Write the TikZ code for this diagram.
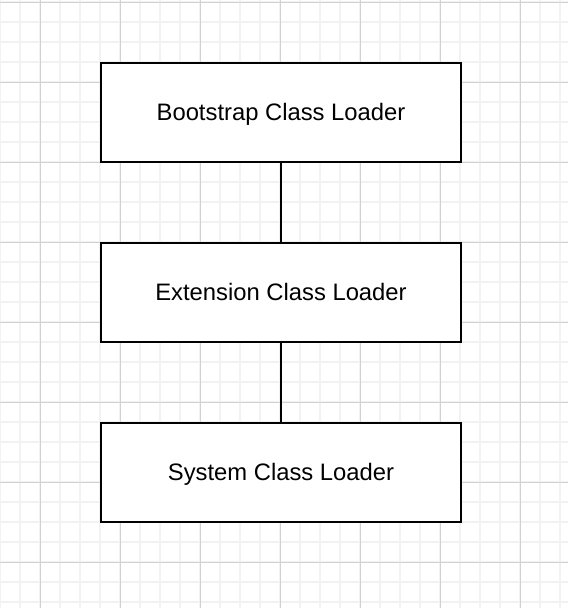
\documentclass[tikz,border=0pt]{standalone}
\usepackage{fontspec}
\setmainfont{Liberation Sans}
\begin{document}
\begin{tikzpicture}[x=1pt,y=-1pt,
  minorgrid/.style={draw=black!5,line width=1.1pt},
  majorgrid/.style={draw=black!18,line width=1pt},
  loader/.style={draw=black,line width=1.6pt,fill=white,minimum width=360pt,minimum height=99pt,inner sep=0pt,text height=19pt,text depth=3pt,font=\fontsize{23.8}{28}\selectfont},
  link/.style={draw=black,line width=1.6pt}]
\useasboundingbox (0,0) rectangle (568,608);
\fill[white] (0,0) rectangle (568,608);
\foreach \x in {0,20,...,560} \draw[minorgrid] (\x,0) -- (\x,608);
\foreach \y in {2,22,...,602} \draw[minorgrid] (0,\y) -- (568,\y);
\foreach \x in {40,120,...,520} \draw[majorgrid] (\x,0) -- (\x,608);
\foreach \y in {2,82,...,562} \draw[majorgrid] (0,\y) -- (568,\y);
\node[loader] (boot) at (281,112.5) {Bootstrap Class Loader};
\node[loader] (ext) at (281,292.5) {Extension Class Loader};
\node[loader] (sys) at (281,472.5) {System Class Loader};
\draw[link] (boot) -- (ext);
\draw[link] (ext) -- (sys);
\end{tikzpicture}
\end{document}
